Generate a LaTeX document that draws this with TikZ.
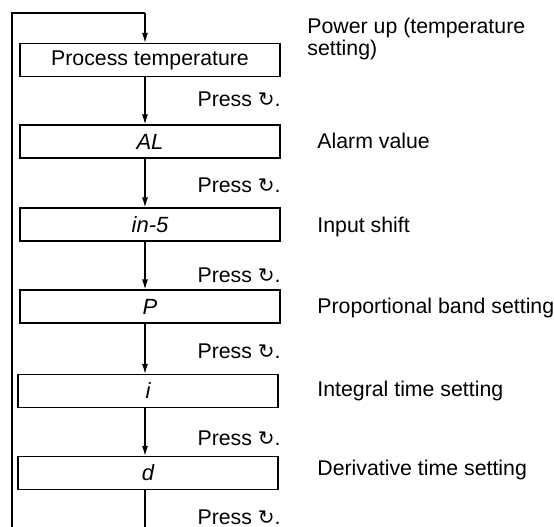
\documentclass[tikz,border=0pt]{standalone}
\usepackage{fontspec}
\setmainfont{Liberation Sans}
\newfontfamily\keyfont{DejaVu Sans}
\usetikzlibrary{arrows.meta,calc}
\newcommand{\keysym}{{\keyfont\fontsize{10}{10}\selectfont ↻}}
\newcommand{\segfont}{\fontsize{11}{11}\selectfont\itshape}
\tikzset{
    block/.style = {draw, rectangle, line width=.6pt,
        minimum height=16.5pt,
        minimum width=130pt, inner sep=0pt},
    arrow/.style = {draw, line width=.6pt, -{Latex[length=5pt,width=3pt]}},
    press/.style = {anchor=base east, inner sep=0pt},
    note/.style = {anchor=base west, inner sep=0pt, align=left}
}

\begin{document}
\begin{tikzpicture}[x=.5pt,y=-.5pt,font=\fontsize{10.65}{11}\selectfont]
        \useasboundingbox (0,0) rectangle (554,527);
        % display boxes
        \node[block] (b1) at (150,60) {Process temperature};
        \node[block,font=\segfont] (b2) at (150,141.5) {AL};
        \node[block,font=\segfont] (b3) at (150,224.5) {in-5};
        \node[block,font=\segfont] (b4) at (150,306.5) {P};
        \node[block,font=\segfont] (b5) at (148,391) {i};
        \node[block,font=\segfont] (b6) at (148,473) {d};
        % return loop
        \coordinate (loopbot) at (12,527);
        \coordinate (loopcorner) at (12,13);
        \coordinate (loopin) at (145,13);
        \coordinate (flowend) at (145,527);
        \draw[line width=.6pt] (loopbot) -- (loopcorner) -- (loopin);
        \draw[arrow] (loopin) -- (b1.north -| loopin);
        \foreach \a/\b in {b1/b2,b2/b3,b3/b4,b4/b5,b5/b6}{
            \draw[arrow] (\a.south -| loopin) -- (\b.north -| loopin);
        }
        \draw[line width=.6pt] (b6.south -| loopin) -- (flowend);
        % key presses
        \foreach \y [count=\i] in {106,192,282,358,445,524}{
            \node[press] (press\i) at (281,\y) {Press \keysym.};
        }
        % descriptions
        \node[note] (n1) at (307,55) {Power up (temperature\\setting)};
        \node[note] (n2) at (317,148) {Alarm value};
        \node[note] (n3) at (317,232.5) {Input shift};
        \node[note] (n4) at (317,313) {Proportional band setting};
        \node[note] (n5) at (317,396) {Integral time setting};
        \node[note] (n6) at (317,475) {Derivative time setting};
        \end{tikzpicture}
\end{document}
